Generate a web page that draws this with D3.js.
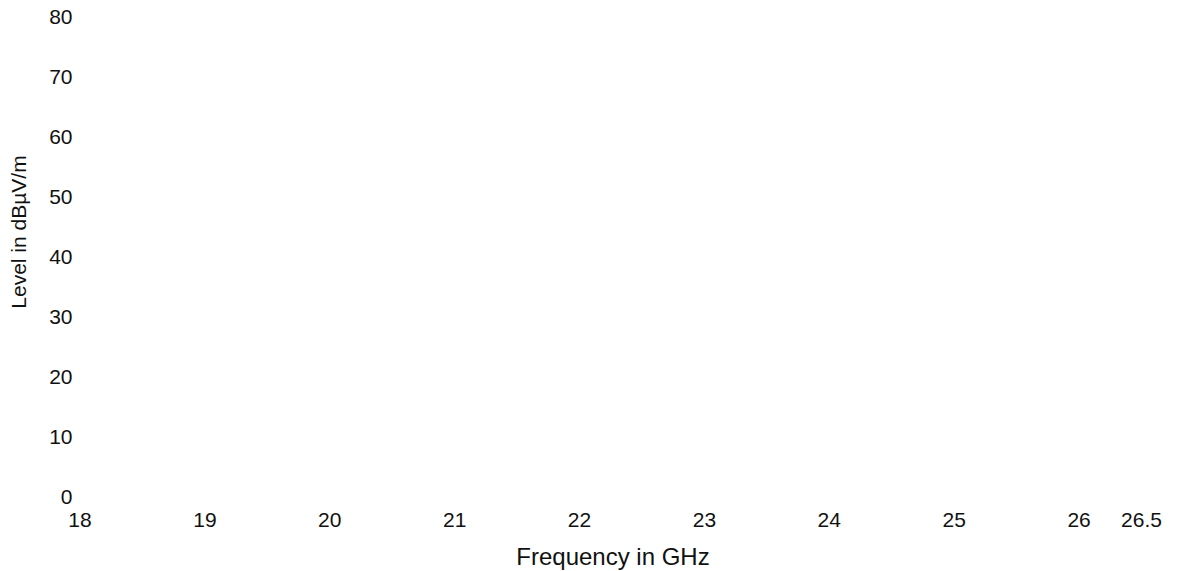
<!DOCTYPE html>
<html>
<head>
<meta charset="utf-8">
<script src="https://cdn.jsdelivr.net/npm/d3@7"></script>
<style>
  html, body { margin: 0; padding: 0; background: #fff; }
  svg { display: block; }
  .axis text { font-family: "Liberation Sans", Arial, Helvetica, sans-serif; fill: #111; }
  .title { font-family: "Liberation Sans", Arial, Helvetica, sans-serif; fill: #111; }
</style>
</head>
<body>
<svg id="chart" width="1178" height="571"></svg>
<script>
// Frequency axis (GHz) and level axis (dBµV/m) tick values
const freqTicks = [18, 19, 20, 21, 22, 23, 24, 25, 26, 26.5];
const levelTicks = [0, 10, 20, 30, 40, 50, 60, 70, 80];
const freqDomain = [18, 26.5];
const levelDomain = [0, 80];
const xTitle = "Frequency in GHz";
const yTitle = "Level in dBµV/m";

const svg = d3.select("#chart");
const plot = { left: 79.5, right: 1141, top: 17, bottom: 497 };

const x = d3.scaleLinear().domain(freqDomain).range([plot.left, plot.right]);
const y = d3.scaleLinear().domain(levelDomain).range([plot.bottom, plot.top]);

// Frequency labels along the bottom, no axis line or tick marks
const xAxis = svg.append("g")
  .attr("class", "axis")
  .attr("transform", `translate(0,${plot.bottom})`)
  .call(d3.axisBottom(x).tickValues(freqTicks).tickSize(0).tickPadding(15.5)
    .tickFormat(d3.format("~g")));
xAxis.select(".domain").remove();
xAxis.selectAll("text").style("font-size", "21px");

// Level labels on the left, no axis line or tick marks
const yAxis = svg.append("g")
  .attr("class", "axis")
  .attr("transform", `translate(${plot.left},0)`)
  .call(d3.axisLeft(y).tickValues(levelTicks).tickSize(0).tickPadding(7));
yAxis.select(".domain").remove();
yAxis.selectAll("text").style("font-size", "21px");

svg.append("text")
  .attr("class", "title")
  .attr("x", 613)
  .attr("y", 565)
  .attr("text-anchor", "middle")
  .style("font-size", "24px")
  .text(xTitle);

svg.append("text")
  .attr("class", "title")
  .attr("transform", "translate(25.5,232) rotate(-90)")
  .attr("text-anchor", "middle")
  .style("font-size", "21px")
  .text(yTitle);
</script>
</body>
</html>
